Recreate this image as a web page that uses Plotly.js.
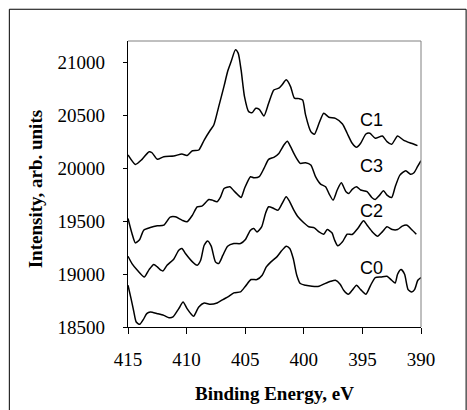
<!DOCTYPE html>
<html>
<head>
<meta charset="utf-8">
<script src="https://cdn.plot.ly/plotly-3.0.1.min.js"></script>
<style>html,body{margin:0;padding:0;background:#fff;}</style>
</head>
<body>
<div id="chart" style="width:467px;height:410px;"></div>
<script>
// Binding energy (eV) and intensity values
const c1X = [415,414.37,413.8,413.2,412.95,412.5,411.95,411.1,410.4,409.96,409.5,408.96,408.5,407.97,407.68,407.26,406.8,406.5,406.2,405.83,405.6,405.35,405.06,404.7,404.4,404.1,403.8,403.4,403.0,402.56,402.13,401.85,401.5,401.13,400.8,400.4,400.1,399.85,399.4,399.1,398.7,398.3,397.86,397.3,396.7,396.3,395.87,395.5,395.15,394.7,394.36,393.9,393.3,392.9,392.5,392.0,391.5,390.83,390.3];
const c1Y = [20124,20035,20083,20155,20145,20083,20108,20114,20133,20120,20164,20171,20265,20360,20407,20581,20776,20912,21006,21117,21085,20927,20675,20533,20524,20565,20555,20492,20612,20738,20754,20786,20833,20770,20660,20656,20644,20502,20344,20319,20423,20518,20480,20470,20417,20329,20234,20196,20234,20322,20329,20281,20303,20250,20225,20303,20265,20234,20212];

const c3X = [415,414.66,414.37,414.0,413.66,413.1,412.5,411.95,411.4,410.96,410.4,409.96,409.5,409.1,408.7,408.1,407.8,407.4,407.1,406.8,406.3,405.97,405.6,405.35,405.06,404.55,404.27,403.8,403.4,403.0,402.56,402.13,401.7,401.4,401.13,400.7,400.3,399.85,399.4,399.0,398.57,398.14,397.86,397.5,397.15,396.8,396.4,396.15,395.87,395.5,395.15,394.6,394.2,393.9,393.6,393.2,392.9,392.5,392.2,391.8,391.3,390.9,390.6,390.3,390];
const c3Y = [19525,19383,19294,19326,19414,19439,19455,19461,19537,19540,19509,19493,19556,19635,19641,19704,19698,19682,19729,19808,19824,19786,19745,19723,19808,19919,19909,19919,19997,20083,20102,20139,20218,20253,20202,20108,20045,20051,20029,19919,19849,19824,19761,19698,19793,19862,19777,19761,19799,19824,19793,19777,19723,19704,19736,19786,19745,19723,19824,19934,19975,19943,19956,20013,20070];

const c2X = [415,414.66,414.2,413.6,413.2,412.8,412.5,412.2,412.0,411.67,411.1,410.67,410.4,410.1,409.5,409.1,408.8,408.5,408.2,407.9,407.54,407.26,406.9,406.5,405.97,405.4,404.98,404.55,404.27,404.0,403.6,403.27,403.0,402.56,402.2,401.85,401.5,401.2,400.85,400.5,400.0,399.57,399.1,398.7,398.3,398.0,397.6,397.37,397.1,396.7,396.3,395.87,395.4,394.9,394.6,394.15,393.7,393.3,392.9,392.45,392.0,391.6,391.2,390.8,390.4];
const c2Y = [19168,19099,19036,18973,19042,19090,19067,19036,19030,19083,19140,19225,19241,19194,19115,19083,19130,19272,19313,19263,19115,19099,19178,19263,19288,19288,19326,19414,19430,19398,19445,19572,19635,19619,19603,19666,19729,19682,19603,19540,19484,19446,19436,19398,19376,19420,19389,19320,19266,19304,19376,19373,19430,19502,19461,19398,19357,19398,19446,19420,19420,19452,19461,19420,19376];

const c0X = [415,414.74,414.5,414.3,414.0,413.7,413.4,413.1,412.5,411.95,411.5,411.16,410.67,410.3,409.96,409.6,409.4,408.96,408.5,407.97,407.4,406.9,406.4,405.97,405.4,404.98,404.5,404.0,403.55,403.2,402.8,402.3,401.9,401.5,401.2,400.9,400.6,400.3,399.85,399.3,398.7,398.2,397.7,397.3,396.9,396.6,396.2,395.87,395.5,395.15,394.7,394.3,393.9,393.4,392.9,392.5,392.2,392.0,391.7,391.4,391.1,390.8,390.55,390.27,390];
const c0Y = [18894,18768,18642,18547,18525,18569,18626,18642,18626,18610,18588,18595,18673,18736,18673,18620,18601,18689,18727,18714,18727,18759,18790,18822,18831,18885,18948,18948,18989,19067,19115,19162,19219,19263,19241,19146,18989,18910,18894,18885,18885,18910,18932,18941,18904,18847,18809,18847,18894,18853,18809,18894,18967,18973,18979,18941,18916,18998,19042,18998,18853,18831,18853,18941,18967];

const curveNames = ["C1","C3","C2","C0"];
const labelX = [394.2,394.2,394.2,394.2];
const labelY = [20454,20019,19596,19061];

const xTicks = [415,410,405,400,395,390];
const yTicks = [18500,19000,19500,20000,20500,21000];

const series = [[c1X,c1Y],[c3X,c3Y],[c2X,c2Y],[c0X,c0Y]];
const traces = series.map((s,i)=>({
  x: s[0], y: s[1], name: curveNames[i], type: 'scatter', mode: 'lines',
  line: {color: '#000', width: 1.5, shape: 'spline', smoothing: 0.6},
  hoverinfo: 'skip'
}));

const serif = 'Liberation Serif, Times New Roman, serif';
const annotations = curveNames.map((n,i)=>({
  x: labelX[i], y: labelY[i], xref: 'x', yref: 'y', text: n, showarrow: false,
  xanchor: 'center', yanchor: 'middle',
  font: {family: 'Liberation Sans, Arial, sans-serif', size: 18, color: '#000'}
}));
annotations.push({
  xref: 'paper', yref: 'paper', x: 0.5, y: -0.232, text: '<b>Binding Energy, eV</b>',
  showarrow: false, xanchor: 'center', yanchor: 'middle',
  font: {family: serif, size: 19, color: '#000'}
});
annotations.push({
  xref: 'paper', yref: 'paper', x: -0.316, y: 0.483, text: '<b>Intensity, arb. units</b>',
  showarrow: false, xanchor: 'center', yanchor: 'middle', textangle: -90,
  font: {family: serif, size: 19, color: '#000'}
});

const layout = {
  width: 467, height: 410,
  margin: {l: 127.7, r: 46.3, t: 40.7, b: 83.3, pad: 0},
  paper_bgcolor: '#fff', plot_bgcolor: '#fff',
  showlegend: false,
  xaxis: {
    range: [415, 390], tickvals: xTicks, ticktext: xTicks.map(String),
    showgrid: false, zeroline: false, showline: true, linecolor: '#000', linewidth: 1.3,
    ticks: 'outside', ticklen: 6, tickcolor: '#000', tickwidth: 1,
    tickfont: {family: serif, size: 19, color: '#000'}, ticklabelstandoff: 9
  },
  yaxis: {
    range: [18500, 21200], tickvals: yTicks, ticktext: yTicks.map(String),
    showgrid: false, zeroline: false, showline: true, linecolor: '#000', linewidth: 1.3,
    ticks: 'outside', ticklen: 4, tickcolor: '#000', tickwidth: 1,
    tickfont: {family: serif, size: 19, color: '#000'}, ticklabelstandoff: 14
  },
  shapes: [
    {type: 'line', xref: 'paper', yref: 'paper', x0: 0, x1: 1, y0: 1, y1: 1, line: {color: '#808080', width: 1}},
    {type: 'line', xref: 'paper', yref: 'paper', x0: 1, x1: 1, y0: 0, y1: 1, line: {color: '#808080', width: 1}},
    {type: 'rect', xref: 'paper', yref: 'paper', x0: -0.405, x1: 1.154, y0: -0.3, y1: 1.111, line: {color: '#000', width: 1}}
  ],
  annotations: annotations
};

Plotly.newPlot('chart', traces, layout, {displayModeBar: false, staticPlot: true});
</script>
</body>
</html>
